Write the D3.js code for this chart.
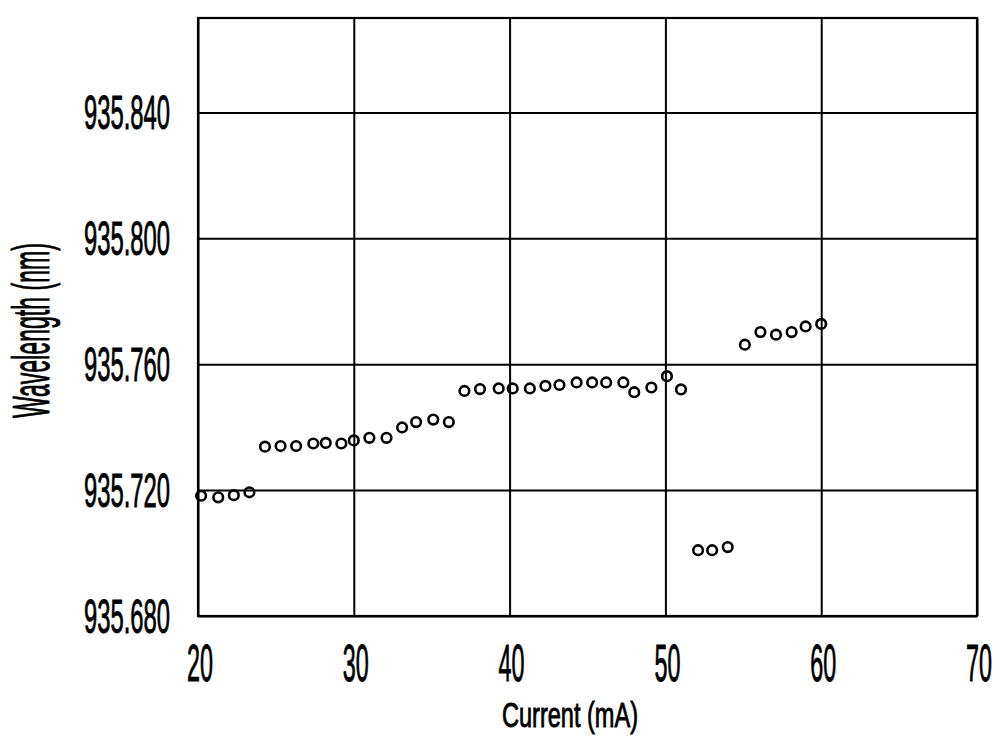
<!DOCTYPE html>
<html>
<head>
<meta charset="utf-8">
<script src="https://cdn.jsdelivr.net/npm/d3@7"></script>
<style>
  html, body { margin: 0; padding: 0; background: #fff; }
  svg { display: block; }
  text { font-family: "Liberation Sans", Arial, sans-serif; fill: #000; stroke: #000; stroke-width: 0.9px; }
</style>
</head>
<body>
<svg id="chart" width="1007" height="742"></svg>
<script>
// Drive current (mA) and measured emission wavelength (nm)
const current = [
  20.2, 21.3, 22.3, 23.3, 24.3, 25.3, 26.3, 27.4, 28.2, 29.2,
  30.0, 31.0, 32.1, 33.1, 34.0, 35.1, 36.1, 37.1, 38.1, 39.3,
  40.2, 41.3, 42.3, 43.2, 44.3, 45.3, 46.2, 47.3, 48.0, 49.1,
  50.1, 51.0, 52.1, 53.0, 54.0, 55.1, 56.1, 57.1, 58.1, 59.0,
  60.0
];
const wavelength = [
  935.7182, 935.7177, 935.7184, 935.7193, 935.7338, 935.7340, 935.7340, 935.7348, 935.7350, 935.7348,
  935.7358, 935.7366, 935.7366, 935.7399, 935.7416, 935.7424, 935.7416, 935.7515, 935.7521, 935.7523,
  935.7523, 935.7523, 935.7531, 935.7534, 935.7542, 935.7542, 935.7542, 935.7542, 935.7511, 935.7526,
  935.7562, 935.7520, 935.7009, 935.7009, 935.7019, 935.7662, 935.7702, 935.7694, 935.7702, 935.7720,
  935.7728
];

const xTicks = [20, 30, 40, 50, 60, 70];
const yTicks = [935.680, 935.720, 935.760, 935.800, 935.840];
const xDomain = [20, 70];
const yDomain = [935.680, 935.870];
const xTitle = "Current (mA)";
const yTitle = "Wavelength (nm)";

const svg = d3.select("#chart");
const plotL = 198, plotR = 977, plotT = 18, plotB = 616;

const x = d3.scaleLinear().domain(xDomain).range([plotL, plotR]);
const y = d3.scaleLinear().domain(yDomain).range([plotB, plotT]);

// grid lines (vertical and horizontal) through the library axes
const gridX = svg.append("g")
  .attr("transform", `translate(0,${plotB})`)
  .call(d3.axisBottom(x).tickValues(xTicks).tickSize(-(plotB - plotT)).tickFormat(""));
const gridY = svg.append("g")
  .attr("transform", `translate(${plotL},0)`)
  .call(d3.axisLeft(y).tickValues(yTicks).tickSize(-(plotR - plotL)).tickFormat(""));
[gridX, gridY].forEach(g => {
  g.select(".domain").remove();
  g.selectAll(".tick line").attr("stroke", "#000").attr("stroke-width", 2);
});

// plot frame
svg.append("rect")
  .attr("x", plotL).attr("y", plotT)
  .attr("width", plotR - plotL).attr("height", plotB - plotT)
  .attr("fill", "none").attr("stroke", "#000").attr("stroke-width", 2.2);

// condensed label: glyphs squeezed to a fixed run length
function label(txt, px, py, size, len, anchor, rotate) {
  svg.append("text")
    .attr("transform", `translate(${px},${py})` + (rotate ? ` rotate(${rotate})` : ""))
    .attr("text-anchor", anchor)
    .attr("font-size", size)
    .attr("textLength", len)
    .attr("lengthAdjust", "spacingAndGlyphs")
    .text(txt);
}

// y tick labels
yTicks.forEach(v => label(d3.format(".3f")(v), 170, y(v) + 17, 48, 86, "end"));
// x tick labels
xTicks.forEach(v => label(String(v), x(v) + 2, 681, 51, 26, "middle"));

// axis titles
label(xTitle, 570, 727, 35, 136, "middle");
label(yTitle, 49, 330.5, 51, 175, "middle", -90);

// data points
svg.append("g").selectAll("circle")
  .data(current.map((c, i) => [c, wavelength[i]]))
  .join("circle")
  .attr("cx", d => x(d[0]))
  .attr("cy", d => y(d[1]))
  .attr("r", 4.8)
  .attr("fill", "none")
  .attr("stroke", "#000")
  .attr("stroke-width", 2.6);
</script>
</body>
</html>
